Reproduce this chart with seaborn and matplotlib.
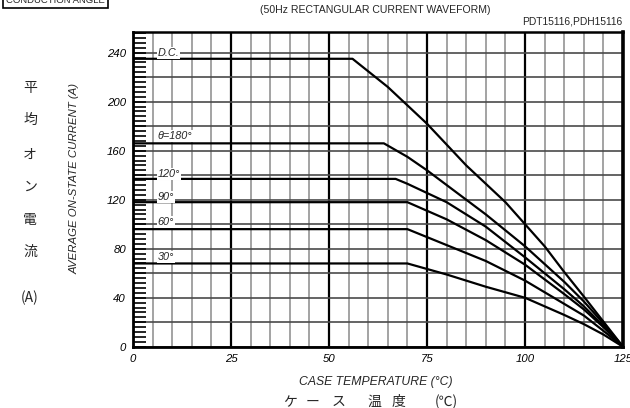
import matplotlib

matplotlib.use("Agg")
import matplotlib.pyplot as plt
import pandas as pd
import seaborn as sns
from matplotlib.ticker import FuncFormatter, MultipleLocator

# curve data (case temperature °C -> average current A)
angle_labels = ["D.C.", "θ=180°", "120°", "90°", "60°", "30°"]
dc_temp = [0, 56, 65, 75, 85, 95, 100, 105, 110, 115, 120, 125]
dc_current = [235, 235, 212, 182, 148, 118, 100, 82, 61, 41, 20.5, 0]
a180_temp = [0, 64, 70, 75, 80, 90, 100, 110, 115, 120, 125]
a180_current = [166, 166, 155, 144, 132, 108, 82, 53, 37, 19, 0]
a120_temp = [0, 67, 70, 80, 90, 100, 110, 115, 120, 125]
a120_current = [137, 137, 133, 118, 98, 73, 47, 33, 17, 0]
a90_temp = [0, 70, 80, 90, 100, 110, 115, 120, 125]
a90_current = [118, 118, 104, 87, 67, 43, 30.5, 16, 0]
a60_temp = [0, 70, 80, 90, 100, 110, 115, 120, 125]
a60_current = [96, 96, 83, 70, 54, 35, 25.5, 13, 0]
a30_temp = [0, 70, 80, 90, 100, 110, 115, 120, 125]
a30_current = [68, 68, 59, 49, 40, 26, 18.5, 10, 0]

x_ticks = [0, 25, 50, 75, 100, 125]
y_ticks = [0, 40, 80, 120, 160, 200, 240]

temps = [dc_temp, a180_temp, a120_temp, a90_temp, a60_temp, a30_temp]
currents = [dc_current, a180_current, a120_current, a90_current, a60_current, a30_current]
frame = pd.concat(
    [
        pd.DataFrame({"temp": t, "current": c, "angle": label})
        for label, t, c in zip(angle_labels, temps, currents)
    ],
    ignore_index=True,
)

sns.set_theme(style="white")
plt.rcParams["font.family"] = ["Liberation Sans", "Noto Sans CJK JP", "DejaVu Sans"]

fig = plt.figure(figsize=(6.3, 4.08), dpi=100)
ax = fig.add_axes([0.211, 0.150, 0.778, 0.772])

sns.lineplot(
    data=frame, x="temp", y="current", hue="angle", palette=["black"] * len(angle_labels),
    legend=False, sort=False, estimator=None, linewidth=1.6, ax=ax, zorder=3,
)

ax.set_xlim(0, 125)
ax.set_ylim(0, 257)
ax.set_xticks(x_ticks)
ax.xaxis.set_minor_locator(MultipleLocator(5))
ax.yaxis.set_major_locator(MultipleLocator(20))
ax.yaxis.set_major_formatter(FuncFormatter(lambda v, _: f"{v:.0f}" if round(v) in y_ticks else ""))
ax.yaxis.set_minor_locator(MultipleLocator(4))

ax.grid(which="minor", axis="x", color="#8a8a8a", linewidth=1.1)
ax.grid(which="major", axis="x", color="black", linewidth=1.6)
ax.grid(which="major", axis="y", color="#4a4a4a", linewidth=1.2)
ax.set_axisbelow(True)

ax.tick_params(axis="x", which="both", length=0, pad=5, labelsize=8.2)
ax.tick_params(axis="y", which="both", direction="in", length=9, width=1.2,
               left=True, right=False, color="black", pad=5, labelsize=8.2)
for lab in ax.get_xticklabels() + ax.get_yticklabels():
    lab.set_fontstyle("italic")
    lab.set_color("black")

for side, w in [("left", 2.0), ("bottom", 2.0), ("top", 1.8), ("right", 2.6)]:
    ax.spines[side].set_visible(True)
    ax.spines[side].set_color("black")
    ax.spines[side].set_linewidth(w)

ax.set_xlabel("")
ax.set_ylabel("")

# curve labels sitting on the grid, left side
label_y = {"D.C.": 240, "θ=180°": 172, "120°": 141, "90°": 122, "60°": 102, "30°": 73}
for label in angle_labels:
    ax.text(6.3, label_y[label], label, fontsize=7.8, fontstyle="italic", va="center", ha="left",
            zorder=4, bbox=dict(facecolor="white", edgecolor="none", pad=0.6))

# titles
fig.text(375 / 630, 1 - 10 / 408, "(50Hz RECTANGULAR CURRENT WAVEFORM)", ha="center", va="center",
         fontsize=7.6)
fig.text(622 / 630, 1 - 22 / 408, "PDT15116,PDH15116", ha="right", va="center", fontsize=7.4)
fig.text(6 / 630, 1 - 3 / 408, "CONDUCTION ANGLE", ha="left", va="baseline", fontsize=6.8,
         bbox=dict(facecolor="white", edgecolor="black", linewidth=1.2, pad=2.5))

# axis titles
fig.text(376 / 630, 1 - 382 / 408, "CASE TEMPERATURE (°C)", ha="center", va="center",
         fontsize=8.8, fontstyle="italic")
fig.text(75 / 630, 1 - 178 / 408, "AVERAGE ON-STATE CURRENT (A)", ha="center", va="center",
         fontsize=8.2, fontstyle="italic", rotation=90)

jp_x_chars = ["ケ", "ー", "ス", "温", "度", "(℃)"]
jp_x_pos = [290, 313, 339, 374, 399, 446]
for ch, px in zip(jp_x_chars, jp_x_pos):
    fig.text(px / 630, 1 - 402 / 408, ch, ha="center", va="center", fontsize=10,
             family=["Noto Sans CJK JP", "DejaVu Sans"])

jp_y_chars = ["平", "均", "オ", "ン", "電", "流", "(A)"]
jp_y_pos = [88, 120, 155, 187, 220, 252, 298]
for ch, py in zip(jp_y_chars, jp_y_pos):
    fig.text(30 / 630, 1 - py / 408, ch, ha="center", va="center", fontsize=10,
             family=["Noto Sans CJK JP", "DejaVu Sans"])

fig.savefig("out.png", dpi=100)
plt.close(fig)
